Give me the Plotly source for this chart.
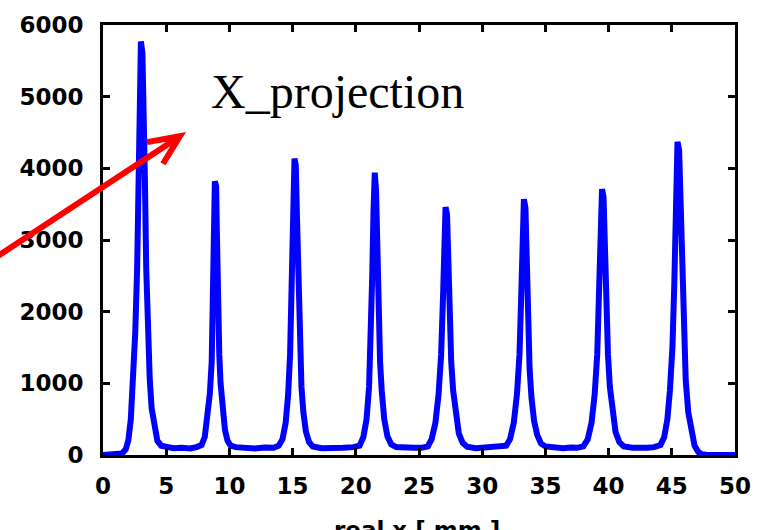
import plotly.graph_objects as go

# ---- data ----
x_mm = [
    0.0, 0.5, 1.0, 1.5, 1.8, 2.0, 2.2, 2.35, 2.55, 2.7, 2.78, 2.88, 3.0, 3.12, 3.22, 3.32, 3.42, 3.55, 3.7, 3.85, 4.05, 4.3, 4.6, 5.0,
    5.6, 6.2, 6.9,
    7.4, 7.8, 8.05, 8.25, 8.45, 8.6, 8.7, 8.78, 8.85, 8.95, 9.02, 9.1, 9.2, 9.3, 9.45, 9.65, 9.85, 10.1, 10.5,
    11.2, 12.0, 12.8,
    13.5, 13.9, 14.2, 14.45, 14.65, 14.8, 14.95, 15.05, 15.15, 15.25, 15.35, 15.45, 15.55, 15.7, 15.85, 16.05, 16.3, 16.6,
    17.3, 18.1, 19.0,
    19.8, 20.3, 20.6, 20.85, 21.05, 21.2, 21.3, 21.4, 21.5, 21.6, 21.7, 21.8, 21.92, 22.05, 22.25, 22.5, 22.8, 23.2,
    23.9, 24.6,
    25.2, 25.7, 26.0, 26.3, 26.55, 26.75, 26.9, 27.0, 27.1, 27.22, 27.32, 27.42, 27.55, 27.7, 27.9, 28.15, 28.45, 28.8,
    29.5, 30.3, 30.8,
    31.3, 31.9, 32.2, 32.5, 32.75, 32.95, 33.1, 33.2, 33.3, 33.42, 33.52, 33.62, 33.75, 33.9, 34.1, 34.35, 34.65, 35.0,
    35.7, 36.4, 37.0,
    37.5, 38.0, 38.35, 38.65, 38.9, 39.1, 39.25, 39.35, 39.48, 39.6, 39.7, 39.8, 39.95, 40.1, 40.3, 40.55, 40.85, 41.2,
    41.9, 42.6, 43.1,
    43.6, 44.1, 44.4, 44.65, 44.85, 45.05, 45.2, 45.32, 45.45, 45.58, 45.7, 45.82, 45.95, 46.1, 46.3, 46.55, 46.8, 47.1, 47.4, 47.8,
    48.5, 49.3, 50.0,
]
counts = [
    0, 0, 0, 20, 80, 200, 500, 1000, 1700, 2600, 3800, 5000, 5770, 5600, 5000, 3800, 2600, 1700, 1050, 650, 380, 200, 130, 110,
    95, 100, 90,
    110, 140, 250, 500, 850, 1300, 2000, 3000, 3820, 3750, 3000, 2000, 1400, 1000, 650, 350, 200, 130, 110,
    100, 90, 105,
    100, 130, 220, 450, 850, 1400, 2300, 3300, 4135, 4050, 3300, 2300, 1500, 950, 600, 330, 180, 120,
    95, 90, 100,
    110, 130, 250, 500, 950, 1600, 2500, 3400, 3940, 3700, 2800, 1900, 1300, 900, 500, 260, 150, 110,
    95, 100,
    100, 120, 220, 450, 850, 1400, 2200, 3000, 3460, 3350, 2700, 1900, 1300, 900, 550, 300, 170, 115,
    95, 100, 105,
    110, 130, 220, 450, 850, 1400, 2300, 3100, 3570, 3450, 2700, 1900, 1200, 800, 480, 280, 160, 120,
    100, 95, 105,
    100, 120, 220, 450, 850, 1400, 2300, 3200, 3710, 3600, 2900, 2100, 1400, 950, 580, 320, 180, 120,
    100, 95, 100,
    110, 140, 250, 500, 900, 1500, 2400, 3400, 4370, 4250, 3400, 2400, 1600, 1050, 600, 300, 130, 40, 10, 0,
    0, 0, 0,
]
x_ticks = [0, 5, 10, 15, 20, 25, 30, 35, 40, 45, 50]
y_ticks = [0, 1000, 2000, 3000, 4000, 5000, 6000]

# ---- layout geometry (pixels) ----
W, H = 767, 530
L, R, T, B = 103, 32, 18, 75
pw, ph = W - L - R, H - T - B


def px(xp):
    return (xp - L) / pw


def py(yp):
    return (H - B - yp) / ph


tick_font = dict(family="DejaVu Sans", size=23, color="black", weight="bold")

fig = go.Figure()
fig.add_trace(go.Scatter(x=x_mm, y=counts, mode="lines",
                         line=dict(color="#0000ff", width=6), showlegend=False))

axis_common = dict(showgrid=False, zeroline=False, showline=True, linecolor="black",
                   linewidth=3, mirror="ticks", ticks="inside", ticklen=7, tickwidth=3,
                   tickcolor="black", tickfont=tick_font)

fig.update_xaxes(range=[0, 50], tickvals=x_ticks, ticktext=[str(v) for v in x_ticks],
                 ticklabelstandoff=8, **axis_common)
fig.update_yaxes(range=[0, 6000], tickvals=y_ticks, ticktext=[str(v) for v in y_ticks],
                 ticklabelstandoff=12, **axis_common)

# red arrow (line + open head)
tip = (180, 131)
tail = (-10, 258)
b1 = (147, 137)
b2 = (163, 159)
path = (f"M {px(tail[0])} {py(tail[1])} L {px(tip[0])} {py(tip[1])} "
        f"M {px(b1[0])} {py(b1[1])} L {px(tip[0])} {py(tip[1])} L {px(b2[0])} {py(b2[1])}")
fig.add_shape(type="path", path=path, xref="paper", yref="paper",
              line=dict(color="#ff0000", width=6))

fig.add_annotation(text="X_projection", xref="paper", yref="paper",
                   x=px(209), y=py(86), xanchor="left", yanchor="middle",
                   showarrow=False, font=dict(family="Liberation Serif", size=48, color="black"))

fig.add_annotation(text="real x [ mm ]", xref="paper", yref="paper",
                   x=px(417), y=py(516), xanchor="center", yanchor="top",
                   showarrow=False, font=tick_font)

fig.update_layout(width=W, height=H, margin=dict(l=L, r=R, t=T, b=B),
                  paper_bgcolor="white", plot_bgcolor="white")

fig.write_html("out.html")
